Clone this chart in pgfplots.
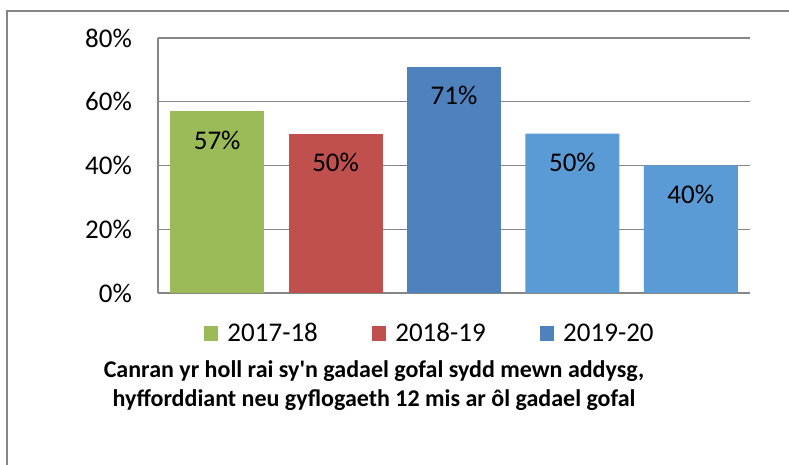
\documentclass[border=0pt]{standalone}
\usepackage{pgfplots}
\pgfplotsset{compat=1.18}
\usepackage{fontspec}
\setmainfont{Carlito}
\newfontfamily\tfont{Carlito}[Ligatures=Common]
\definecolor{cgreen}{HTML}{9BBB59}
\definecolor{cred}{HTML}{C0504D}
\definecolor{cblue}{HTML}{4F81BD}
\definecolor{clblue}{HTML}{5B9BD5}
\definecolor{gridd}{HTML}{868686}
\definecolor{gridl}{HTML}{D9D9D9}
\begin{document}
\begin{tikzpicture}
\useasboundingbox (0,0) rectangle (789pt,465pt);
\fill[white] (0,0) rectangle (789pt,465pt);
\draw[color=gridd, line width=1.6pt] (7pt,0pt) -- (7pt,454pt) -- (789pt,454pt);
\begin{axis}[
  at={(158pt,172pt)}, anchor=south west,
  scale only axis, width=592pt, height=255pt,
  xmin=-0.5, xmax=4.5, ymin=0, ymax=80,
  ybar, bar width=94pt, bar shift=0pt,
  axis x line*=bottom, axis y line*=left,
  x axis line style={draw=gridl, line width=1pt},
  y axis line style={draw=gridd, line width=1.2pt},
  xtick=\empty,
  ytick={20,40,60},
  extra y ticks={0,80},
  extra y tick style={grid style={draw=gridl, line width=1.2pt}},
  ymajorgrids,
  major grid style={draw=gridd, line width=1.2pt},
  major tick length=0pt,
  yticklabel={\pgfmathprintnumber{\tick}\%},
  /pgf/number format/assume math mode=true,
  yticklabel style={font=\fontsize{27}{32}\selectfont, inner sep=0pt, anchor=east, xshift=-26pt},
  nodes near coords={\pgfmathprintnumber{\pgfplotspointmeta}\%},
  every node near coord/.append style={font=\fontsize{27}{32}\selectfont, text=black, anchor=center, yshift=-29pt},
  legend columns=3,
  legend style={draw=none, fill=none, inner sep=0pt, outer sep=0pt,
    font=\fontsize{27}{32}\selectfont,
    at={(0.0777,-0.157)}, anchor=west,
    /tikz/every odd column/.append style={column sep=7pt},
    /tikz/every even column/.append style={column sep=52pt}},
  legend image code/.code={\fill[#1] (0pt,-7.5pt) rectangle (14.5pt,7pt);},
]
\addplot[fill=cgreen, draw=none] coordinates {(0,57)};
\addlegendentry{2017-18}
\addplot[fill=cred, draw=none] coordinates {(1,50)};
\addlegendentry{2018-19}
\addplot[fill=cblue, draw=none] coordinates {(2,71)};
\addlegendentry{2019-20}
\addplot[fill=clblue, draw=none, forget plot] coordinates {(3,50) (4,40)};
\end{axis}
\node[font=\tfont\bfseries\fontsize{24}{29}\selectfont, anchor=base] at (374pt,87pt) {Canran yr holl rai sy'n gadael gofal sydd mewn addysg,};
\node[font=\tfont\bfseries\fontsize{24}{29}\selectfont, anchor=base] at (374pt,58pt) {hyfforddiant neu gyflogaeth 12 mis ar ôl gadael gofal};
\end{tikzpicture}
\end{document}
